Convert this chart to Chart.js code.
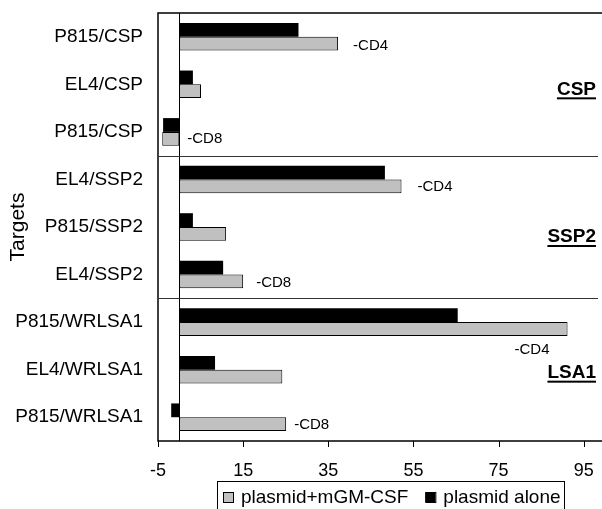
<!DOCTYPE html>
<html>
<head>
<meta charset="utf-8">
<script src="https://cdn.jsdelivr.net/npm/chart.js@4"></script>
<style>
  html, body { margin: 0; padding: 0; background: #fff; overflow: hidden; width: 602px; height: 509px; }
</style>
</head>
<body>
<canvas id="chart" width="605" height="509"></canvas>
<script>
// data
const targets = ["P815/CSP", "EL4/CSP", "P815/CSP", "EL4/SSP2", "P815/SSP2", "EL4/SSP2", "P815/WRLSA1", "EL4/WRLSA1", "P815/WRLSA1"];
const plasmidAlone = [28, 3.2, -3.8, 48.3, 3.2, 10.3, 65.4, 8.4, -1.9];
const plasmidGM = [37.3, 5.1, -4, 52.2, 11, 15, 91.2, 24.2, 25.1];
const xTicks = [-5, 15, 35, 55, 75, 95];
const antigens = ["CSP", "SSP2", "LSA1"];
const noteText = ["-CD4", "-CD8", "-CD4", "-CD8", "-CD4", "-CD8"];
const noteRow = [0, 2, 3, 5, 6, 8];

const FONT = '"Liberation Sans", Arial, sans-serif';
const GRAY = "#c0c0c0";

// extra drawing: frame, group separators, zero line, x tick marks, notes, antigen labels, legend
const extras = {
  id: "extras",
  beforeDatasetsDraw(chart) {
    const { ctx, chartArea: a, scales: { x, y } } = chart;
    ctx.save();
    ctx.strokeStyle = "#000";
    ctx.lineWidth = 1.5;
    ctx.beginPath();
    ctx.moveTo(a.right + 2, a.top);
    ctx.lineTo(a.left, a.top);
    ctx.lineTo(a.left, a.bottom);
    ctx.lineTo(a.right + 2, a.bottom);
    ctx.stroke();

    ctx.lineWidth = 1;
    ctx.beginPath();
    // zero line
    const z = Math.round(x.getPixelForValue(0)) + 0.5;
    ctx.moveTo(z, a.top);
    ctx.lineTo(z, a.bottom);
    // tick marks below the value axis
    xTicks.forEach(v => {
      const tx = Math.round(x.getPixelForValue(v)) + 0.5;
      ctx.moveTo(tx, a.bottom);
      ctx.lineTo(tx, a.bottom + 6);
    });
    ctx.stroke();

    // separators between antigen groups
    ctx.strokeStyle = "#333";
    ctx.beginPath();
    [3, 6].forEach(i => {
      const sy = Math.round((y.getPixelForValue(i - 1) + y.getPixelForValue(i)) / 2) + 0.5;
      ctx.moveTo(a.left, sy);
      ctx.lineTo(a.right + 2, sy);
    });
    ctx.stroke();
    ctx.restore();
  },
  afterDraw(chart) {
    const { ctx, chartArea: a, scales: { x, y } } = chart;
    ctx.save();
    // keep the right edge clean (no frame there in the figure)
    ctx.fillStyle = "#fff";
    ctx.fillRect(598, a.top + 1, 10, a.bottom - a.top - 2);

    ctx.fillStyle = "#000";
    ctx.textBaseline = "middle";

    // -CD4 / -CD8 notes next to the grey bars
    const dx = [15, 8, 16, 13, -53, 8];
    const dy = [9, 7, 7, 8, 28, 8];
    ctx.font = "15px " + FONT;
    ctx.textAlign = "left";
    noteText.forEach((t, i) => {
      const r = noteRow[i];
      const px = x.getPixelForValue(Math.max(plasmidGM[r], 0)) + dx[i];
      const py = y.getPixelForValue(r) + dy[i];
      ctx.fillText(t, px, py);
    });

    // antigen group labels, bold + underlined
    const gy = [5, 10, 3];
    ctx.font = "bold 19px " + FONT;
    ctx.textAlign = "right";
    antigens.forEach((t, i) => {
      const py = y.getPixelForValue(i * 3 + 1) + gy[i];
      const right = 596;
      ctx.fillText(t, right, py);
      const w = ctx.measureText(t).width;
      ctx.fillRect(right - w, py + 8, w, 2);
    });

    // legend box
    ctx.lineWidth = 1;
    ctx.strokeStyle = "#000";
    ctx.strokeRect(217.5, 481.5, 347, 40);
    ctx.font = "19px " + FONT;
    ctx.textAlign = "left";
    const items = chart.data.datasets.slice().reverse();
    let px = 223;
    items.forEach(ds => {
      ctx.fillStyle = ds.backgroundColor;
      ctx.fillRect(px, 492, 10, 10);
      ctx.strokeRect(px + 0.5, 492.5, 10, 10);
      ctx.fillStyle = "#000";
      ctx.fillText(ds.label, px + 18, 498);
      px += 18 + ctx.measureText(ds.label).width + 17;
    });
    ctx.restore();
  }
};

new Chart(document.getElementById("chart"), {
  type: "bar",
  data: {
    labels: targets,
    datasets: [
      {
        label: "plasmid alone",
        data: plasmidAlone,
        backgroundColor: "#000",
        borderWidth: 0,
      },
      {
        label: "plasmid+mGM-CSF",
        data: plasmidGM,
        backgroundColor: GRAY,
        borderColor: "#000",
        borderWidth: 1,
        borderSkipped: false,
      },
    ],
  },
  options: {
    indexAxis: "y",
    responsive: false,
    animation: false,
    categoryPercentage: 0.58,
    barPercentage: 1.0,
    layout: { padding: { top: 13, right: 0, left: 0, bottom: 0 } },
    plugins: {
      legend: { display: false },
      tooltip: { enabled: false },
    },
    scales: {
      x: {
        type: "linear",
        min: -5,
        max: 100,
        afterBuildTicks: axis => { axis.ticks = xTicks.map(v => ({ value: v })); },
        afterFit: axis => {
          axis.height = 68;
          axis.paddingLeft = 0;
          axis.paddingRight = 0;
        },
        grid: { display: false },
        border: { display: false },
        ticks: { color: "#000", font: { family: FONT, size: 18 }, padding: 11, maxRotation: 0 },
      },
      y: {
        type: "category",
        afterFit: axis => {
          axis.width = 158;
          axis.paddingTop = 0;
          axis.paddingBottom = 0;
        },
        grid: { display: false },
        border: { display: false },
        ticks: { color: "#000", font: { family: FONT, size: 19 }, padding: 7 },
        title: {
          display: true,
          text: "Targets",
          color: "#000",
          font: { family: FONT, size: 21 },
          padding: { top: 6, bottom: 0 },
        },
      },
    },
  },
  plugins: [extras],
});
</script>
</body>
</html>
